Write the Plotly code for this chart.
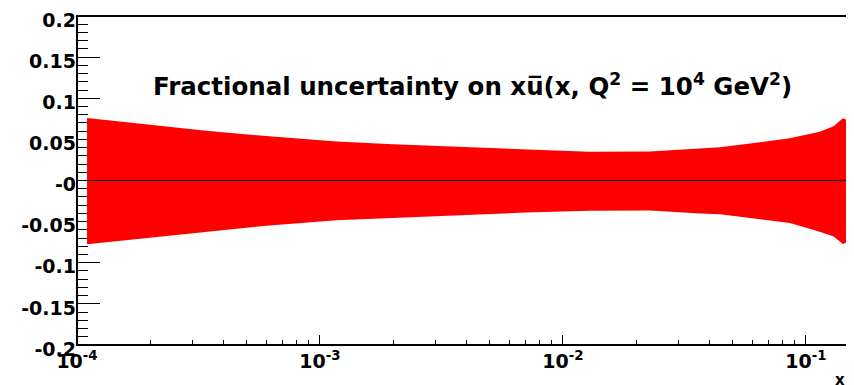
import plotly.graph_objects as go

# x values (log scale) where the band edges were read
x_vals = [1.1e-4, 2e-4, 3.4e-4, 6e-4, 1.17e-3, 2e-3, 3.8e-3, 7e-3, 0.0129,
          0.0228, 0.0366, 0.0443, 0.0859, 0.114, 0.13, 0.142, 0.1476]
upper = [0.076, 0.068, 0.0606, 0.054, 0.0474, 0.044, 0.0411, 0.038, 0.035,
         0.0353, 0.0387, 0.0404, 0.0513, 0.0594, 0.066, 0.0757, 0.0736]
lower = [-0.0776, -0.070, -0.0623, -0.055, -0.0484, -0.045, -0.042, -0.039, -0.0367,
         -0.0365, -0.040, -0.041, -0.0517, -0.0623, -0.068, -0.0773, -0.075]

x_log_range = [-4, -0.831]
y_range = [-0.2, 0.2]
y_tickvals = [-0.2, -0.15, -0.1, -0.05, 0.0, 0.05, 0.1, 0.15, 0.2]
y_ticktext = ["-0.2", "-0.15", "-0.1", "-0.05", "-0", "0.05", "0.1", "0.15", "0.2"]
x_tickvals = [1e-4, 1e-3, 1e-2, 1e-1]
x_ticktext = ["10<sup>-4</sup>", "10<sup>-3</sup>", "10<sup>-2</sup>", "10<sup>-1</sup>"]
x_minor = [m * d for d in [1e-4, 1e-3, 1e-2, 1e-1] for m in range(2, 10) if m * d <= 0.1476]

title_text = ("Fractional uncertainty on xu\u0305(x, Q<sup>2</sup> = 10<sup>4</sup> "
              "GeV<sup>2</sup>)")

FONT = "DejaVu Sans"

fig = go.Figure()
fig.add_trace(go.Scatter(
    x=x_vals + x_vals[::-1],
    y=upper + lower[::-1],
    fill="toself",
    fillcolor="#ff0000",
    line=dict(width=0, color="#ff0000"),
    mode="lines",
    hoverinfo="skip",
    showlegend=False,
))

# page body has an 8px margin, so the figure is sized/offset to compensate
fig.update_layout(
    width=846, height=377,
    margin=dict(l=69, r=7, t=8, b=40, autoexpand=False),
    paper_bgcolor="white", plot_bgcolor="white",
    showlegend=False,
    font=dict(family=FONT, size=19, color="black"),
    xaxis=dict(
        type="log",
        range=x_log_range,
        tickvals=x_tickvals, ticktext=x_ticktext,
        ticks="inside", ticklen=10, tickwidth=1, tickcolor="black",
        minor=dict(tickvals=x_minor, ticks="inside", ticklen=5, tickwidth=1, tickcolor="black"),
        showgrid=False, zeroline=False,
        showline=False, automargin=False,
        ticklabelstandoff=3, ticklabeloverflow="allow",
        layer="below traces",
        tickfont=dict(family=FONT, size=19, color="black", weight="bold"),
    ),
    yaxis=dict(
        range=y_range,
        tickvals=y_tickvals, ticktext=y_ticktext,
        ticks="inside", ticklen=23, tickwidth=1, tickcolor="black",
        minor=dict(dtick=0.01, tick0=0, ticks="inside", ticklen=11, tickwidth=1, tickcolor="black"),
        showgrid=False, zeroline=False,
        showline=False, automargin=False,
        ticklabeloverflow="allow", ticklabelshift=4,
        layer="below traces",
        tickfont=dict(family=FONT, size=19, color="black", weight="bold"),
    ),
    shapes=[
        dict(type="rect", xref="paper", yref="paper", x0=0, x1=1, y0=0, y1=1,
             line=dict(color="black", width=2), layer="above"),
        dict(type="line", xref="paper", yref="y", x0=0, x1=1, y0=0, y1=0,
             line=dict(color="black", width=1), layer="above"),
    ],
    annotations=[
        dict(text=title_text, xref="paper", yref="paper", x=0.513, y=0.789,
             xanchor="center", yanchor="middle", showarrow=False,
             font=dict(family=FONT, size=24.5, color="black", weight="bold")),
        dict(text="x", xref="paper", yref="paper", x=1.0, y=-0.073,
             xanchor="right", yanchor="top", showarrow=False,
             font=dict(family=FONT, size=15, color="black", weight="bold")),
    ],
)

fig.write_html("out.html")
